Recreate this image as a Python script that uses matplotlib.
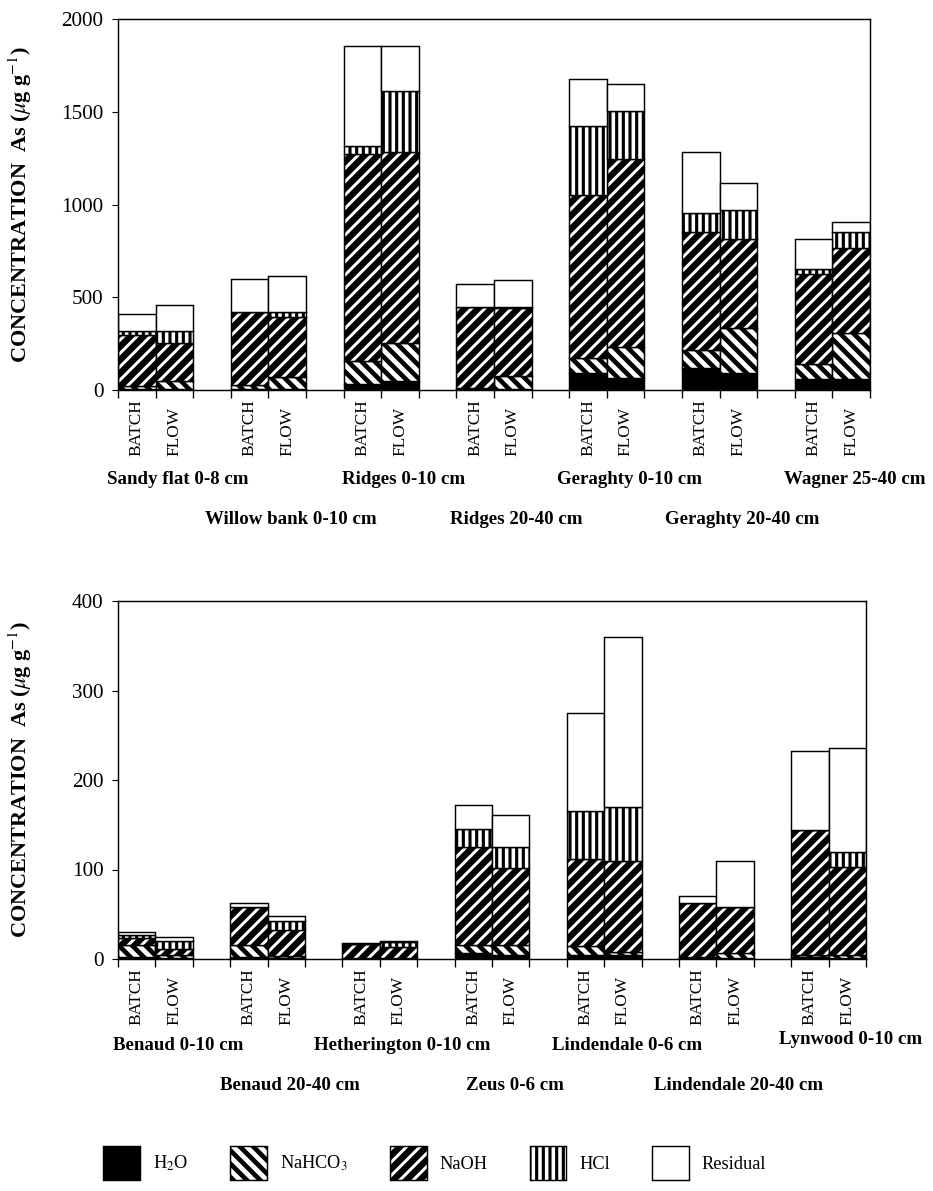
import numpy as np
import matplotlib
matplotlib.use('Agg')
import matplotlib.pyplot as plt
from matplotlib.patches import Patch

DPI = 80

# As fractions (ug/g), order per soil: BATCH, FLOW
soils_a = ['Sandy flat 0-8 cm', 'Willow bank 0-10 cm', 'Ridges 0-10 cm', 'Ridges 20-40 cm',
           'Geraghty 0-10 cm', 'Geraghty 20-40 cm', 'Wagner 25-40 cm']
h2o_a    = [5, 3, 5, 5, 30, 50, 3, 3, 92, 65, 119, 92, 59, 59]
nahco3_a = [17, 47, 20, 65, 126, 203, 7, 72, 81, 167, 97, 242, 81, 248]
naoh_a   = [273, 203, 395, 323, 1116, 1030, 437, 367, 878, 1013, 636, 480, 485, 458]
hcl_a    = [25, 65, 2, 27, 43, 329, 2, 3, 372, 259, 102, 156, 27, 87]
resid_a  = [90, 140, 176, 194, 540, 243, 122, 148, 254, 145, 329, 146, 162, 54]

soils_b = ['Benaud 0-10 cm', 'Benaud 20-40 cm', 'Hetherington 0-10 cm', 'Zeus 0-6 cm',
           'Lindendale 0-6 cm', 'Lindendale 20-40 cm', 'Lynwood 0-10 cm']
h2o_b    = [2, 1, 2, 1, 0.5, 0.5, 7, 5, 5, 4, 1, 1, 2, 1]
nahco3_b = [14, 4, 14, 2, 0.5, 0.5, 9, 11, 9, 4, 1, 6, 2, 3]
naoh_b   = [7, 6, 42, 29, 16, 12, 109, 86, 98, 102, 61, 51, 140, 99]
hcl_b    = [4, 9, 0, 10, 0, 6, 20, 23, 53, 60, 0, 0, 0, 16]
resid_b  = [3, 5, 5, 6, 1, 1, 27, 36, 110, 190, 7, 52, 88, 117]

methods = ['BATCH', 'FLOW']
fraction_names = ['H$_2$O', 'NaHCO$_3$', 'NaOH', 'HCl', 'Residual']

# fill style for each fraction: facecolor, hatch, hatch linewidth (pt)
styles = [('black', '', 1.0), ('white', '\\\\', 4.2), ('white', '//', 5.8),
          ('white', '||', 2.8), ('white', '', 1.0)]

plt.rcParams['font.family'] = 'Liberation Serif'
plt.rcParams['mathtext.fontset'] = 'stix'


def px(n):
    return n * 72.0 / DPI


def draw(ax, fracs, soils, ymax, ystep, label_dy):
    n = len(soils)
    idx = np.arange(n * 2)
    x = idx + idx // 2
    bottom = np.zeros(n * 2)
    for vals, (fc, hatch, hlw) in zip(fracs, styles):
        vals = np.array(vals, dtype=float)
        with plt.rc_context({'hatch.linewidth': hlw}):
            bars = ax.bar(x, vals, width=1, align='edge', bottom=bottom, facecolor=fc,
                          edgecolor='black', hatch=hatch, linewidth=1.3)
        for b in bars:
            if hasattr(b, 'set_hatch_linewidth'):
                b.set_hatch_linewidth(hlw)
        bottom += vals

    ax.set_xlim(0, x[-1] + 1)
    ax.set_ylim(0, ymax)
    ax.set_yticks(np.arange(0, ymax + 1, ystep))
    edges = np.unique(np.concatenate([x, x + 1]))
    ax.set_xticks(edges)
    ax.set_xticklabels([''] * len(edges))
    ax.tick_params(axis='x', direction='out', length=7, width=1.2)
    ax.tick_params(axis='y', direction='out', length=5, width=1.0, labelsize=19, pad=8)
    for s in ax.spines.values():
        s.set_linewidth(1.3)

    for i, xi in enumerate(x):
        ax.annotate(methods[i % 2], xy=(xi + 0.5, 0), xycoords=('data', 'axes fraction'),
                    xytext=(0, -px(66)), textcoords='offset points', rotation=90,
                    ha='center', va='bottom', fontsize=15.5)

    for k, name in enumerate(soils):
        row = k % 2
        dy = label_dy[row]
        if name.startswith('Lynwood'):
            dy -= 5
        ax.annotate(name, xy=(3 * k + 1.6, 0), xycoords=('data', 'axes fraction'),
                    xytext=(0, -px(dy)), textcoords='offset points',
                    ha='center', va='center', fontsize=17, fontweight='bold')

    ax.set_ylabel(r'CONCENTRATION  As ($\mu$g g$^{-1}$)', fontsize=20, fontweight='bold')
    ax.yaxis.set_label_coords(-0.112, 0.5)


fig = plt.figure(figsize=(933 / DPI, 1191 / DPI), dpi=DPI)
ax1 = fig.add_axes([118 / 933, 1 - 390 / 1191, 752 / 933, 371 / 1191])
ax2 = fig.add_axes([118 / 933, 1 - 959 / 1191, 748 / 933, 358 / 1191])

draw(ax1, [h2o_a, nahco3_a, naoh_a, hcl_a, resid_a], soils_a, 2000, 500, (90, 130))
draw(ax2, [h2o_b, nahco3_b, naoh_b, hcl_b, resid_b], soils_b, 400, 100, (86, 126))

handles = [Patch(facecolor=fc, edgecolor='black', hatch=hatch, linewidth=1.3)
           for (fc, hatch, hlw) in styles]
leg = fig.legend(handles, fraction_names, loc='center', bbox_to_anchor=(0.466, 1 - 1163 / 1191),
                 ncol=5, frameon=False, fontsize=16.5, handlelength=2.0, handleheight=2.4,
                 columnspacing=2.3, handletextpad=0.7)
for h, (fc, hatch, hlw) in zip(leg.legend_handles, styles):
    if hasattr(h, 'set_hatch_linewidth'):
        h.set_hatch_linewidth(hlw)

fig.savefig('out.png', dpi=DPI)
